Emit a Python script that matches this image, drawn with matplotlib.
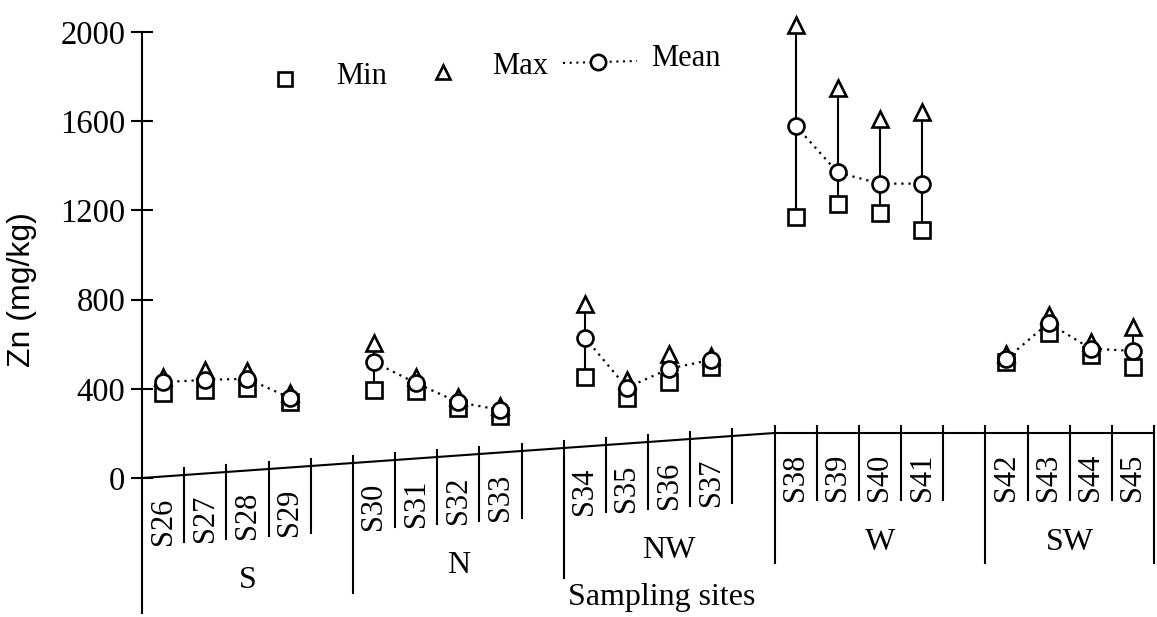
import matplotlib
matplotlib.use("Agg")
import matplotlib.pyplot as plt
from matplotlib.lines import Line2D

# ---------------- data ----------------
groups = ["S", "N", "NW", "W", "SW"]
sites = [["S26", "S27", "S28", "S29"],
         ["S30", "S31", "S32", "S33"],
         ["S34", "S35", "S36", "S37"],
         ["S38", "S39", "S40", "S41"],
         ["S42", "S43", "S44", "S45"]]
min_vals = [[380, 395, 405, 340],
            [395, 390, 315, 280],
            [455, 360, 430, 500],
            [1170, 1230, 1190, 1110],
            [520, 650, 550, 500]]
max_vals = [[455, 485, 480, 380],
            [605, 455, 365, 325],
            [780, 440, 555, 545],
            [2030, 1750, 1610, 1640],
            [555, 730, 610, 675]]
mean_vals = [[430, 440, 445, 360],
             [520, 425, 340, 305],
             [630, 405, 490, 530],
             [1580, 1370, 1320, 1320],
             [535, 695, 580, 570]]
yticks = [0, 400, 800, 1200, 1600, 2000]

# ---------------- figure ----------------
W, H = 1157, 617
fig = plt.figure(figsize=(W / 100, H / 100), dpi=100)
ax_left, ax_right, ax_top, ax_bot = 142, 1154, 32, 478
ax = fig.add_axes([ax_left / W, (H - ax_bot) / H,
                   (ax_right - ax_left) / W, (ax_bot - ax_top) / H])
nslots = 24
ax.set_xlim(0, nslots)
ax.set_ylim(0, 2000)
for s in ["top", "right", "bottom"]:
    ax.spines[s].set_visible(False)
ax.spines["left"].set_linewidth(1.5)
ax.set_xticks([])
ax.set_yticks(yticks)
ax.set_yticklabels([str(v) for v in yticks], family="Liberation Serif")
ax.tick_params(axis="y", direction="inout", length=16, width=1.5,
               labelsize=23.5, pad=4)

serif = "Liberation Serif"
upp = 2000 / (ax_bot - ax_top)      # data units per pixel


def shift_px(s):
    # the (scanned) baseline rises 3 px per slot up to the W group, then flat
    return 3.0 * min(s, 15)


def ybelow(s, dy):
    # dy pixels relative to baseline (negative = below), in data units
    return (shift_px(s) + dy) * upp


mk = dict(color="black", mfc="white", mec="black", mew=1.9, ls="none",
          clip_on=False)

for g, gname in enumerate(groups):
    xs = [g * 5 + j + 0.5 for j in range(4)]
    # range lines
    for x, lo, hi in zip(xs, min_vals[g], max_vals[g]):
        ax.plot([x, x], [lo, hi], color="black", lw=1.5, zorder=2, clip_on=False)
    # mean dotted line
    ax.plot(xs, mean_vals[g], color="black", lw=1.6, ls=(0, (1, 2.2)),
            zorder=2, clip_on=False)
    ax.plot(xs, min_vals[g], marker="s", ms=11, zorder=3, **mk)
    ax.plot(xs, max_vals[g], marker="^", ms=11.5, zorder=3, **mk)
    ax.plot(xs, mean_vals[g], marker="o", ms=11.5, zorder=4, **mk)

# ---------------- sheared category axis ----------------
ax.plot([0, 15, nslots], [ybelow(0, 0), ybelow(15, 0), ybelow(nslots, 0)],
        color="black", lw=1.5, clip_on=False, zorder=1)

group_bounds = [0, 5, 10, 15, 20, 24]
for b in range(nslots + 1):
    if b in group_bounds:
        top, bot = (0 if b == 0 else 7), -130
        if b == 0:
            bot = -135
    else:
        top, bot = 7, -67
    ax.plot([b, b], [ybelow(b, top), ybelow(b, bot)], color="black",
            lw=1.5, clip_on=False, zorder=1)

for g, gname in enumerate(groups):
    for j, name in enumerate(sites[g]):
        x = g * 5 + j + 0.5
        ax.text(x, ybelow(x, -21), name, rotation=90, ha="center", va="top",
                fontsize=22, family=serif, clip_on=False)
    gc = (group_bounds[g] + group_bounds[g + 1]) / 2
    ax.text(gc, ybelow(gc, -110), gname, ha="center", va="center",
            fontsize=23, family=serif, clip_on=False)

fig.text(662 / W, 1 - 598 / H, "Sampling sites", ha="center", va="center",
         fontsize=23, family=serif)
fig.text(22 / W, 1 - 290 / H, "Zn (mg/kg)", rotation=90, ha="center",
         va="center", fontsize=23, family="Liberation Sans")

# ---------------- legend ----------------
def fx(px):
    return px / W


def fy(py):
    return 1 - py / H


leg_mk = dict(color="black", mfc="white", mec="black", mew=1.9, ls="none",
              transform=fig.transFigure)
fig.add_artist(Line2D([fx(285)], [fy(79)], marker="s", ms=10.5, **leg_mk))
fig.text(fx(336), fy(76), "Min", ha="left", va="center", fontsize=22, family=serif)
fig.add_artist(Line2D([fx(443)], [fy(72)], marker="^", ms=10, **leg_mk))
fig.text(fx(492), fy(67), "Max", ha="left", va="center", fontsize=22, family=serif)
fig.add_artist(Line2D([fx(563), fx(637)], [fy(63), fy(61)], color="black",
                      lw=1.5, ls=(0, (1, 2.2)), transform=fig.transFigure))
fig.add_artist(Line2D([fx(598)], [fy(62)], marker="o", ms=11, **leg_mk))
fig.text(fx(651), fy(58), "Mean", ha="left", va="center", fontsize=22, family=serif)

fig.savefig("out.png", dpi=100)
